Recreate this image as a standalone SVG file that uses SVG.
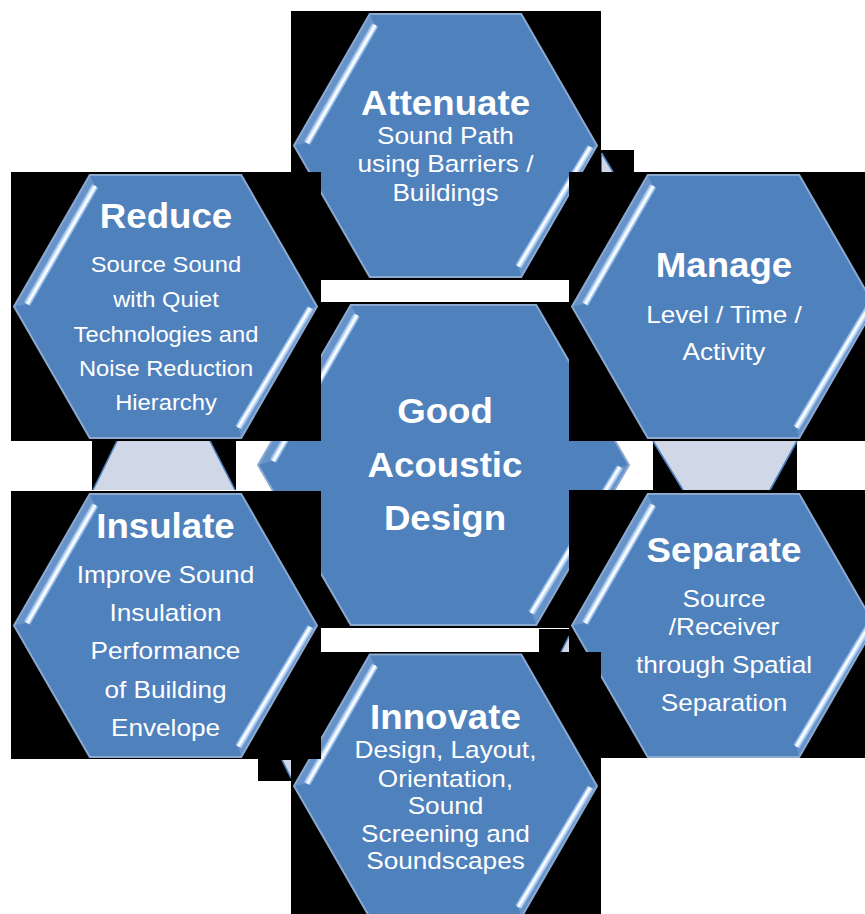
<svg xmlns="http://www.w3.org/2000/svg" width="865" height="914" viewBox="0 0 865 914">
<defs>
<style>
.bk{fill:#000000}
.hex{fill:#4F81BD;stroke:#8CA9D0;stroke-width:2}
.bev{fill:#86A9D8;fill-opacity:0.45}
.hl{stroke:#9CC0EC;stroke-width:7;stroke-linecap:butt}
.hm{stroke:#D5E6FA;stroke-width:4;stroke-linecap:butt}
.hc{stroke:#FFFFFF;stroke-width:1.8;stroke-linecap:butt}
.lt{fill:#D0D8E8}
.le{stroke:#4F81BD;stroke-width:1.6;fill:none}
text{fill:#FFFFFF;font-family:"Liberation Sans",Arial,sans-serif;text-anchor:middle}
.t{font-weight:bold;font-size:34.6px}
.b{font-size:24.7px}
.bs{font-size:22.4px}
</style>
<g id="hx">
<polygon class="hex" points="-75.75,-131.5 75.75,-131.5 151.5,0 75.75,131.5 -75.75,131.5 -151.5,0"/>
<polygon class="bev" points="-75.75,-131.5 -151.5,0 -138.5,-2.5 -70.5,-120.5"/>
<polygon class="bev" points="151.5,0 145,1.5 73,121 75.75,131.5"/>
<line class="hl" x1="-70.5" y1="-120.5" x2="-138.5" y2="-2.5"/>
<line class="hm" x1="-70.5" y1="-120.5" x2="-138.5" y2="-2.5"/>
<line class="hc" x1="-70" y1="-120.5" x2="-138" y2="-2.5"/>
<line class="hl" x1="145" y1="1.5" x2="73" y2="121"/>
<line class="hm" x1="145" y1="1.5" x2="73" y2="121"/>
<line class="hc" x1="144.5" y1="1.5" x2="72.5" y2="121"/>
</g>
</defs>
<rect width="865" height="914" fill="#FFFFFF"/>

<g id="connectors">
<rect class="bk" x="92" y="441" width="144" height="49"/>
<polygon class="lt" points="117,441 210,441 235,490 93,490"/>
<line class="le" x1="117" y1="441" x2="93" y2="490"/>
<line class="le" x1="210" y1="441" x2="235" y2="490"/>
<rect class="bk" x="653" y="441" width="144" height="49"/>
<polygon class="lt" points="653,441 797,441 770,490 683,490"/>
<line class="le" x1="653" y1="441" x2="683" y2="490"/>
<line class="le" x1="797" y1="441" x2="770" y2="490"/>
<rect class="bk" x="600" y="150" width="34" height="22"/>
<polygon class="lt" points="601.5,153 613,172 601.5,172"/>
<line class="le" x1="601.5" y1="153" x2="613" y2="172"/>
<rect class="bk" x="539" y="629" width="30" height="23"/>
<polygon class="lt" points="569,636 569,652 561,652"/>
<line class="le" x1="569" y1="636" x2="561" y2="652"/>
<rect class="bk" x="258" y="759" width="33" height="22"/>
<polygon class="lt" points="282,760 291,760 291,778"/>
<line class="le" x1="282" y1="760" x2="291" y2="778"/>
</g>

<g id="node-center">
<rect class="bk" x="321" y="302" width="248" height="326"/>
<g transform="translate(443.5,465)">
<polygon class="hex" points="-92.75,-160 92.75,-160 185.5,0 92.75,160 -92.75,160 -185.5,0"/>
<polygon class="bev" points="-92.75,-160 -185.5,0 -170.5,-4 -86.8,-150"/>
<polygon class="bev" points="185.5,0 176.5,2 88,148 92.75,160"/>
<line class="hl" x1="-86.8" y1="-150" x2="-170.5" y2="-4"/>
<line class="hm" x1="-86.8" y1="-150" x2="-170.5" y2="-4"/>
<line class="hc" x1="-86.3" y1="-150" x2="-170" y2="-4"/>
<line class="hl" x1="176.5" y1="2" x2="88" y2="148"/>
<line class="hm" x1="176.5" y1="2" x2="88" y2="148"/>
<line class="hc" x1="176" y1="2" x2="87.5" y2="148"/>
</g>
<g transform="matrix(1.06 0 0 1 -26.7 0)">
<text class="t" x="445" y="423">Good</text>
<text class="t" x="445" y="477">Acoustic</text>
<text class="t" x="445" y="530">Design</text>
</g>
</g>

<g id="node-attenuate">
<rect class="bk" x="291" y="11" width="310" height="269"/>
<use href="#hx" transform="translate(445.5,145.5)"/>
<g transform="matrix(1.06 0 0 1 -26.73 0)">
<text class="t" x="445.5" y="115">Attenuate</text>
<text class="b" x="445.5" y="144">Sound Path</text>
<text class="b" x="445.5" y="172.5">using Barriers /</text>
<text class="b" x="445.5" y="201">Buildings</text>
</g>
</g>

<g id="node-reduce">
<rect class="bk" x="11" y="172" width="310" height="269"/>
<use href="#hx" transform="translate(165.5,306.5)"/>
<g transform="matrix(1.06 0 0 1 -9.96 0)">
<text class="t" x="166" y="228">Reduce</text>
<text class="bs" x="166" y="272">Source Sound</text>
<text class="bs" x="166" y="307">with Quiet</text>
<text class="bs" x="166" y="342">Technologies and</text>
<text class="bs" x="166" y="376">Noise Reduction</text>
<text class="bs" x="166" y="410">Hierarchy</text>
</g>
</g>

<g id="node-manage">
<rect class="bk" x="569" y="172" width="296" height="269"/>
<use href="#hx" transform="translate(723.5,306.5)"/>
<g transform="matrix(1.06 0 0 1 -43.44 0)">
<text class="t" x="724" y="277">Manage</text>
<text class="b" x="724" y="323">Level / Time /</text>
<text class="b" x="724" y="360">Activity</text>
</g>
</g>

<g id="node-separate">
<rect class="bk" x="569" y="490" width="296" height="268"/>
<use href="#hx" transform="translate(723.5,625.5)"/>
<g transform="matrix(1.06 0 0 1 -43.44 0)">
<text class="t" x="724" y="562">Separate</text>
<text class="b" x="724" y="607">Source</text>
<text class="b" x="724" y="635">/Receiver</text>
<text class="b" x="724" y="673">through Spatial</text>
<text class="b" x="724" y="711">Separation</text>
</g>
</g>

<g id="node-innovate">
<rect class="bk" x="291" y="652" width="310" height="262"/>
<use href="#hx" transform="translate(445.5,786)"/>
<g transform="matrix(1.06 0 0 1 -26.73 0)">
<text class="t" x="445.5" y="729">Innovate</text>
<text class="b" x="445.5" y="758">Design, Layout,</text>
<text class="b" x="445.5" y="787">Orientation,</text>
<text class="b" x="445.5" y="814">Sound</text>
<text class="b" x="445.5" y="842">Screening and</text>
<text class="b" x="445.5" y="869">Soundscapes</text>
</g>
</g>

<g id="node-insulate">
<rect class="bk" x="11" y="491" width="310" height="268"/>
<use href="#hx" transform="translate(165.5,625.5)"/>
<g transform="matrix(1.06 0 0 1 -9.93 0)">
<text class="t" x="165.5" y="538">Insulate</text>
<text class="b" x="165.5" y="583">Improve Sound</text>
<text class="b" x="165.5" y="621">Insulation</text>
<text class="b" x="165.5" y="659">Performance</text>
<text class="b" x="165.5" y="698">of Building</text>
<text class="b" x="165.5" y="736">Envelope</text>
</g>
</g>
</svg>
